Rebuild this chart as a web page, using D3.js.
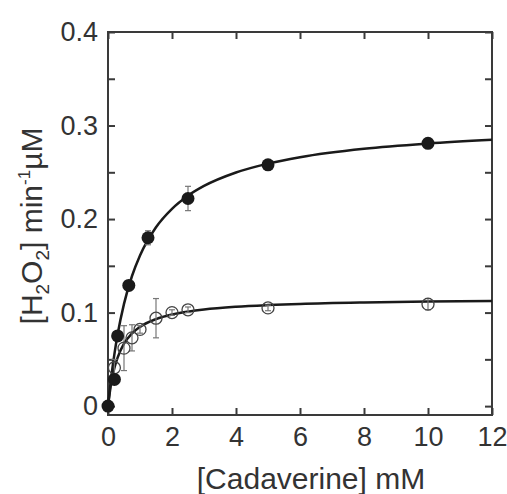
<!DOCTYPE html>
<html>
<head>
<meta charset="utf-8">
<script src="https://cdn.jsdelivr.net/npm/d3@7"></script>
<style>
  body { margin: 0; background: #fff; }
  svg { display: block; }
  .tick text { font-family: "Liberation Sans", Arial, sans-serif; fill: #333; }
</style>
</head>
<body>
<svg id="chart"></svg>
<script>
// filled circles (upper curve)
var filledX   = [0, 0.2, 0.3, 0.65, 1.25, 2.5, 5, 10];
var filledY   = [0, 0.0285, 0.075, 0.129, 0.180, 0.222, 0.258, 0.281];
var filledErr = [0.002, 0.002, 0.003, 0.003, 0.0075, 0.013, 0.003, 0.003];

// open circles (lower curve)
var openX   = [0.2, 0.5, 0.75, 1.0, 1.5, 2.0, 2.5, 5, 10];
var openY   = [0.041, 0.062, 0.073, 0.082, 0.094, 0.100, 0.103, 0.105, 0.109];
var openErr = [0.009, 0.024, 0.014, 0.004, 0.021, 0.003, 0.003, 0.003, 0.006];

// fitted curves
var fitX      = [0, 0.1, 0.2, 0.3, 0.5, 0.75, 1, 1.5, 2, 2.5, 3, 4, 5, 6, 8, 10, 12];
var fitFilled = [0, 0.0306, 0.0556, 0.0765, 0.1093, 0.1391, 0.1611, 0.1913, 0.2110, 0.225, 0.2354, 0.2498, 0.2593, 0.2661, 0.2751, 0.2807, 0.2847];
var fitOpen   = [0, 0.0247, 0.0407, 0.0519, 0.0667, 0.0777, 0.0847, 0.0930, 0.0979, 0.1010, 0.1033, 0.1062, 0.1080, 0.1093, 0.1109, 0.1119, 0.1125];

var xTicks = [0, 2, 4, 6, 8, 10, 12];
var yTicks = [0, 0.05, 0.1, 0.15, 0.2, 0.25, 0.3, 0.35, 0.4];

var W = 507, H = 494;
var mLeft = 108, mTop = 32, mRight = 492, mBottom = 415;
var font = '"Liberation Sans", Arial, sans-serif';

var svg = d3.select("#chart").attr("width", W).attr("height", H);

var x = d3.scaleLinear().domain([0, 12]).range([mLeft, mRight]);
var y = d3.scaleLinear().domain([-0.0095, 0.4]).range([mBottom, mTop]);

var axisColor = "#3a3a3a";

// axes, ticks inward
var gx = svg.append("g").attr("transform", "translate(0," + mBottom + ")")
    .call(d3.axisBottom(x).tickValues(xTicks).tickSize(-7).tickPadding(12).tickFormat(d3.format("d")));
var gxt = svg.append("g").attr("transform", "translate(0," + mTop + ")")
    .call(d3.axisTop(x).tickValues(xTicks).tickSize(-7).tickFormat(""));
var gy = svg.append("g").attr("transform", "translate(" + mLeft + ",0)")
    .call(d3.axisLeft(y).tickValues(yTicks).tickSize(-7).tickPadding(10)
      .tickFormat(function(d){
          if (Math.round(d * 100) % 10 != 0) return "";
          return d == 0 ? "0" : d3.format(".1f")(d);
      }));
var gyr = svg.append("g").attr("transform", "translate(" + mRight + ",0)")
    .call(d3.axisRight(y).tickValues(yTicks).tickSize(-7).tickFormat(""));

[gx, gxt, gy, gyr].forEach(function(g){
    g.select(".domain").remove();
    g.selectAll(".tick line").attr("stroke", axisColor).attr("stroke-width", 2);
    g.selectAll(".tick text").style("font-size", "27px").attr("fill", "#333");
});

svg.append("rect")
    .attr("x", mLeft).attr("y", mTop)
    .attr("width", mRight - mLeft).attr("height", mBottom - mTop)
    .attr("fill", "none").attr("stroke", axisColor).attr("stroke-width", 2);

// fitted curves
var line = d3.line().curve(d3.curveMonotoneX);
[fitFilled, fitOpen].forEach(function(ys){
    svg.append("path")
        .attr("d", line(fitX.map(function(v, i){ return [x(v), y(ys[i])]; })))
        .attr("fill", "none").attr("stroke", "#1a1a1a").attr("stroke-width", 2.5);
});

// error bars
function errorBars(xs, ys, es, color){
    var g = svg.append("g").attr("stroke", color).attr("stroke-width", 1.2);
    xs.forEach(function(v, i){
        var cx = x(v), y1 = y(ys[i] - es[i]), y2 = y(ys[i] + es[i]);
        g.append("line").attr("x1", cx).attr("x2", cx).attr("y1", y1).attr("y2", y2);
        g.append("line").attr("x1", cx - 3).attr("x2", cx + 3).attr("y1", y1).attr("y2", y1);
        g.append("line").attr("x1", cx - 3).attr("x2", cx + 3).attr("y1", y2).attr("y2", y2);
    });
}
errorBars(openX, openY, openErr, "#777");
errorBars(filledX, filledY, filledErr, "#777");

// open markers
svg.append("g").selectAll("circle")
    .data(openX)
    .enter()
    .append("circle")
    .attr("cx", function(d){ return x(d); })
    .attr("cy", function(d, i){ return y(openY[i]); })
    .attr("r", 6)
    .attr("fill", "none")
    .attr("stroke", "#444")
    .attr("stroke-width", 1.3);

// filled markers
svg.append("g").selectAll("circle")
    .data(filledX)
    .enter()
    .append("circle")
    .attr("cx", function(d){ return x(d); })
    .attr("cy", function(d, i){ return y(filledY[i]); })
    .attr("r", 6.5)
    .attr("fill", "#1a1a1a");

// axis titles
svg.append("text")
    .attr("x", 311).attr("y", 489)
    .attr("text-anchor", "middle")
    .style("font-family", font).style("font-size", "30px").attr("fill", "#333")
    .text("[Cadaverine] mM");

var yt = svg.append("text")
    .attr("transform", "translate(42,226) rotate(-90)")
    .attr("text-anchor", "middle")
    .style("font-family", font).style("font-size", "30px").attr("fill", "#333");
yt.append("tspan").text("[H");
yt.append("tspan").text("2").style("font-size", "19px").attr("dy", 7);
yt.append("tspan").text("O").attr("dy", -7);
yt.append("tspan").text("2").style("font-size", "19px").attr("dy", 7);
yt.append("tspan").text("] min").attr("dy", -7);
yt.append("tspan").text("-1").style("font-size", "17px").attr("dy", -12);
yt.append("tspan").text("µM").attr("dy", 12);
</script>
</body>
</html>
